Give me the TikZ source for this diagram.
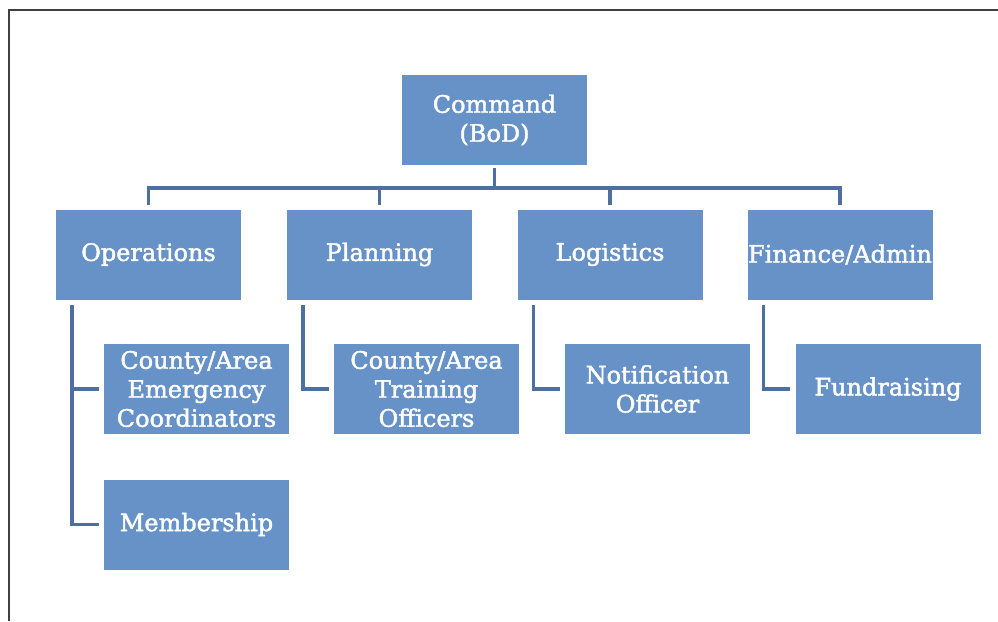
\documentclass[tikz,border=0pt]{standalone}
\usepackage{fontspec}
\setmainfont[BoldFont=DejaVu Serif,BoldFeatures={FakeBold=1.8}]{DejaVu Serif}
\definecolor{boxblue}{RGB}{103,146,199}
\definecolor{linkblue}{RGB}{78,112,160}
\tikzset{
	unit/.style={rectangle,fill=boxblue,text=white,align=center,inner sep=0pt,
		minimum width=185pt,minimum height=90pt,
		font=\fontsize{24}{29}\selectfont\bfseries},
	link/.style={draw=linkblue,line width=3.5pt},
	frame/.style={draw=black!75,line width=2pt}
}
\begin{document}
\begin{tikzpicture}[x=1pt,y=-1pt]
		\useasboundingbox (0,0) rectangle (998,621);
		\draw[frame] (9,621) -- (9,10) -- (998,10);
		\node[unit] (cmd) at (494.5,120) {Command\\(BoD)};
		\node[unit] (ops) at (148.5,254.5) {Operations};
		\node[unit] (plan) at (379.5,254.5) {Planning};
		\node[unit] (logi) at (610,254.5) {Logistics};
		\node[unit] (fin) at (840,254.5) {Finance/Admin};
		\node[unit] (cec) at (196.5,389) {County/Area\\Emergency\\Coordinators};
		\node[unit] (mem) at (196.5,524.5) {Membership};
		\node[unit] (train) at (426.5,389) {County/Area\\Training\\Officers};
		\node[unit] (notif) at (657.5,389) {Notification\\Officer};
		\node[unit] (fund) at (888,389) {Fundraising};
		\coordinate (bus) at (494.5,188);
		\draw[link] ([yshift=-3pt]cmd.south) -- (bus);
		\foreach \n in {ops,plan,logi,fin}
			\draw[link] ([yshift=4pt]\n.north) |- (bus);
		\draw[link] ([xshift=-76.5pt,yshift=-5pt]ops.south) |- ([xshift=-5pt]mem.west);
		\draw[link] ([xshift=-76.5pt]ops.south|-cec.west) -- ([xshift=-5pt]cec.west);
		\draw[link] ([xshift=-76.5pt,yshift=-5pt]plan.south) |- ([xshift=-5pt]train.west);
		\draw[link] ([xshift=-76.5pt,yshift=-5pt]logi.south) |- ([xshift=-5pt]notif.west);
		\draw[link] ([xshift=-76.5pt,yshift=-5pt]fin.south) |- ([xshift=-5pt]fund.west);
		%\draw[link] (cec) -- (mem);
	\end{tikzpicture}
\end{document}
